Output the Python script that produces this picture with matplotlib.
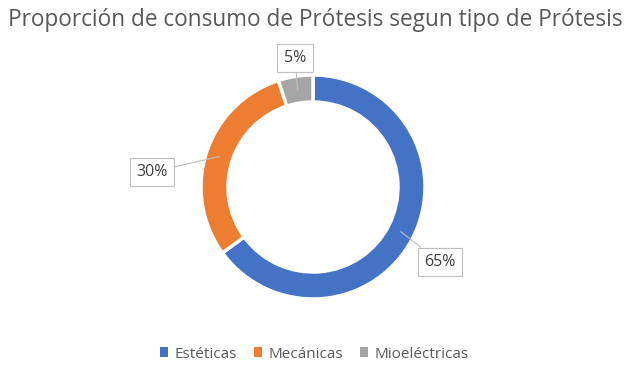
import numpy as np
import matplotlib.pyplot as plt
from matplotlib.patches import Patch

categories = ["Estéticas", "Mecánicas", "Mioeléctricas"]
values = [65, 30, 5]
labels = ["65%", "30%", "5%"]
colors = ["#4472C4", "#ED7D31", "#A5A5A5"]

plt.rcParams['font.family'] = ['Open Sans', 'DejaVu Sans']

W, H = 635, 372
fig = plt.figure(figsize=(W / 100, H / 100), dpi=100)
ax = fig.add_axes([0, 0, 1, 1])

cx, cy = 313, H - 187
r_out, ring = 112, 27

wedges, _ = ax.pie(values, startangle=90, counterclock=False, colors=colors,
                   radius=r_out, center=(cx, cy), frame=True,
                   wedgeprops=dict(width=ring, edgecolor="white", linewidth=2.5))
ax.set_xlim(0, W)
ax.set_ylim(0, H)
ax.axis("off")

# label box positions in pixel coords (from top)
box_pos = [(440, 262), (152, 172), (295, 58)]
for w, lab, (bx, by) in zip(wedges, labels, box_pos):
    ang = np.deg2rad((w.theta1 + w.theta2) / 2)
    rm = r_out - ring / 2
    px, py = cx + rm * np.cos(ang), cy + rm * np.sin(ang)
    ax.annotate(lab, xy=(px, py), xytext=(bx, H - by), ha="center", va="center",
                fontsize=11.5, color="#404040",
                bbox=dict(boxstyle="square,pad=0.4", fc="white", ec="#BFBFBF", lw=0.8),
                arrowprops=dict(arrowstyle="-", color="#BFBFBF", lw=0.8, shrinkA=0, shrinkB=0))

fig.text(0.5 - 2 / W, 1 - 20 / H, "Proporción de consumo de Prótesis segun tipo de Prótesis",
         ha="center", va="center", fontsize=16.3, color="#595959")

handles = [Patch(facecolor=c, edgecolor="none") for c in colors]
fig.legend(handles, categories, loc="center", bbox_to_anchor=(314 / W, 1 - 354 / H),
           ncol=3, frameon=False, fontsize=11, labelcolor="#595959",
           handlelength=0.55, handleheight=0.55, handletextpad=0.4, columnspacing=1.1)

fig.savefig("out.png", dpi=100)
